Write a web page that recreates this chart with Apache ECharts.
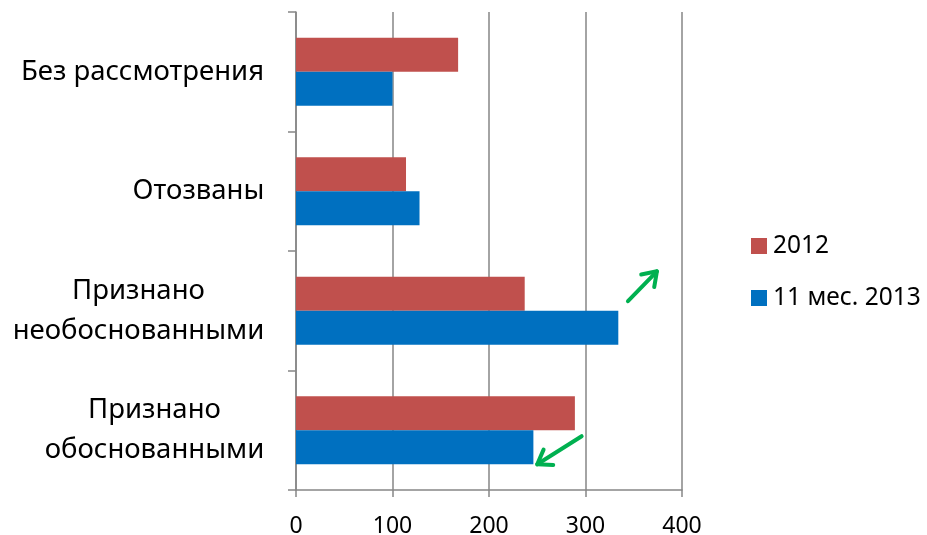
<!DOCTYPE html>
<html>
<head>
<meta charset="utf-8">
<script src="https://cdn.jsdelivr.net/npm/echarts@6/dist/echarts.min.js"></script>
<style>
html,body{margin:0;padding:0;background:#fff;}
#c{width:927px;height:535px;}
</style>
</head>
<body>
<div id="c"></div>
<script>
// Categories listed bottom to top (ECharts category y-axis order)
var categories = ['Признано\nобоснованными', 'Признано\nнеобоснованными', 'Отозваны', 'Без рассмотрения'];
var seriesNames = ['2012', '11 мес. 2013'];
var values2012 = [289, 237, 114, 168];
var values2013 = [246, 334, 128, 100];
var xTicks = [0, 100, 200, 300, 400];
// annotation arrows: [x from, band offset from, x to, band offset to, category index]
var arrowUp = [344, -0.08, 374, -0.33, 1];
var arrowDown = [296, 0.05, 250, 0.285, 0];

var FONT = 'Noto Sans';
var CAT_FS = 27.5;

// measure label lines so multi-line labels can be centered within their own block
var mctx = document.createElement('canvas').getContext('2d');
mctx.font = CAT_FS + 'px "' + FONT + '"';
var rich = {};
categories.forEach(function (c, i) {
  var w = 0;
  c.split('\n').forEach(function (l) { w = Math.max(w, mctx.measureText(l).width); });
  rich['c' + i] = {width: Math.ceil(w) + 1, align: 'center', fontSize: CAT_FS, lineHeight: 40,
    color: '#000', fontFamily: FONT};
});

var chart = echarts.init(document.getElementById('c'));
var option = {
  animation: false,
  textStyle: {fontFamily: FONT},
  grid: {left: 296, right: 245, top: 12, bottom: 45, containLabel: false, outerBoundsMode: 'none'},
  legend: {
    orient: 'vertical',
    left: 746, top: 225,
    itemWidth: 16, itemHeight: 16, itemGap: 20,
    icon: 'rect',
    data: seriesNames.slice(),
    textStyle: {fontSize: 24.5, color: '#000', fontFamily: FONT, lineHeight: 32, padding: [0, 0, 0, 1]}
  },
  xAxis: {
    type: 'value',
    min: xTicks[0], max: xTicks[xTicks.length - 1], interval: 100,
    axisLine: {show: true, lineStyle: {color: '#868686', width: 1.5}},
    axisTick: {show: true, length: 7, lineStyle: {color: '#868686', width: 1.5}},
    splitLine: {show: true, lineStyle: {color: '#868686', width: 1.5}},
    axisLabel: {fontSize: 23, color: '#000', margin: 25, fontFamily: FONT}
  },
  yAxis: {
    type: 'category',
    data: categories,
    axisLine: {show: true, lineStyle: {color: '#868686', width: 1.5}},
    axisTick: {show: true, length: 8, alignWithLabel: false, lineStyle: {color: '#868686', width: 1.5}},
    axisLabel: {fontSize: CAT_FS, color: '#000', margin: 31, lineHeight: 40, fontFamily: FONT,
      rich: rich,
      formatter: function (v, idx) {
        var i = categories.indexOf(v);
        return v.split('\n').map(function (l) { return '{c' + i + '|' + l + '}'; }).join('\n');
      }}
  },
  series: [
    {name: seriesNames[0], type: 'bar', data: values2012, barGap: '0%', barCategoryGap: '43%',
      itemStyle: {color: '#C0504D'}},
    {name: seriesNames[1], type: 'bar', data: values2013, barGap: '0%', barCategoryGap: '43%',
      itemStyle: {color: '#0070C0'}}
  ]
};
chart.setOption(option);

function pt(x, off, cat) {
  var c0 = chart.convertToPixel({yAxisIndex: 0}, categories[0]);
  var c1 = chart.convertToPixel({yAxisIndex: 0}, categories[1]);
  var band = Math.abs(c1 - c0);
  var cy = chart.convertToPixel({yAxisIndex: 0}, categories[cat]);
  var px = chart.convertToPixel({xAxisIndex: 0}, x);
  return [px, cy + off * band];
}
function arrowGraphic(a) {
  var p0 = pt(a[0], a[1], a[4]);
  var p1 = pt(a[2], a[3], a[4]);
  var ang = Math.atan2(p1[1] - p0[1], p1[0] - p0[0]);
  var h = 16, spread = 0.6;
  var l = [p1[0] - h * Math.cos(ang - spread), p1[1] - h * Math.sin(ang - spread)];
  var r = [p1[0] - h * Math.cos(ang + spread), p1[1] - h * Math.sin(ang + spread)];
  var st = {stroke: '#00B050', lineWidth: 4, lineCap: 'round', lineJoin: 'round', fill: null};
  return [
    {type: 'line', shape: {x1: p0[0], y1: p0[1], x2: p1[0], y2: p1[1]}, style: st},
    {type: 'polyline', shape: {points: [l, p1, r]}, style: st}
  ];
}
chart.setOption({graphic: arrowGraphic(arrowUp).concat(arrowGraphic(arrowDown))});
</script>
</body>
</html>
